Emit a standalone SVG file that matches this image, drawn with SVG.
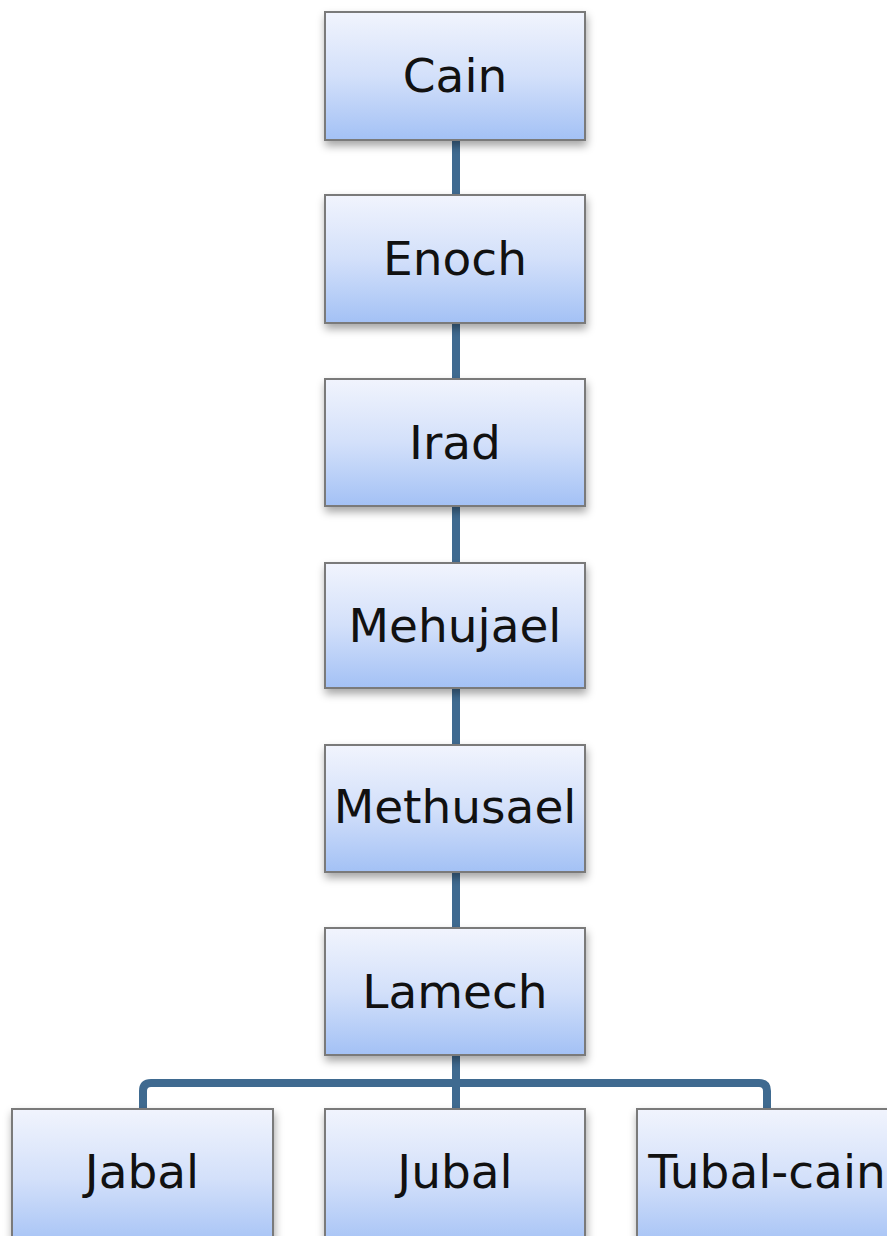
<svg xmlns="http://www.w3.org/2000/svg" width="887" height="1236" viewBox="0 0 887 1236">
<defs>
<linearGradient id="g" x1="0" y1="0" x2="0" y2="1">
<stop offset="0" stop-color="#f1f4fd"/>
<stop offset="0.5" stop-color="#d3e0fa"/>
<stop offset="1" stop-color="#a3c1f5"/>
</linearGradient>
<filter id="sh" x="-10%" y="-10%" width="125%" height="130%">
<feDropShadow dx="1" dy="5" stdDeviation="4" flood-color="#000" flood-opacity="0.35"/>
</filter>
</defs>
<style>
.box{fill:url(#g);stroke:#7a7a7a;stroke-width:2;filter:url(#sh)}
.lbl{font-family:"Comic Sans MS","DejaVu Sans",sans-serif;font-size:47px;fill:#111;text-anchor:middle}
.con{fill:none;stroke:#3f6a90;stroke-width:8;stroke-linejoin:round}
</style>
<rect width="887" height="1236" fill="#fff"/>
<g id="connectors">
<line class="con" x1="456" y1="140" x2="456" y2="195"/>
<line class="con" x1="456" y1="323" x2="456" y2="379"/>
<line class="con" x1="456" y1="506" x2="456" y2="563"/>
<line class="con" x1="456" y1="688" x2="456" y2="745"/>
<line class="con" x1="456" y1="872" x2="456" y2="928"/>
<line class="con" x1="456" y1="1055" x2="456" y2="1109"/>
<path class="con" d="M143 1109 V1091 Q143 1083 151 1083 H759 Q767 1083 767 1091 V1109"/>
</g>
<g id="cain"><rect class="box" x="325" y="12" width="260" height="128"/><text class="lbl" x="455" y="92">Cain</text></g>
<g id="enoch"><rect class="box" x="325" y="195" width="260" height="128"/><text class="lbl" x="455" y="275">Enoch</text></g>
<g id="irad"><rect class="box" x="325" y="379" width="260" height="127"/><text class="lbl" x="455" y="459">Irad</text></g>
<g id="mehujael"><rect class="box" x="325" y="563" width="260" height="125"/><text class="lbl" x="455" y="642">Mehujael</text></g>
<g id="methusael"><rect class="box" x="325" y="745" width="260" height="127"/><text class="lbl" x="455" y="823">Methusael</text></g>
<g id="lamech"><rect class="box" x="325" y="928" width="260" height="127"/><text class="lbl" x="455" y="1008">Lamech</text></g>
<g id="jabal"><rect class="box" x="12" y="1109" width="261" height="140"/><text class="lbl" x="142" y="1188">Jabal</text></g>
<g id="jubal"><rect class="box" x="325" y="1109" width="260" height="140"/><text class="lbl" x="455" y="1188">Jubal</text></g>
<g id="tubal-cain"><rect class="box" x="637" y="1109" width="260" height="140"/><text class="lbl" x="767" y="1188">Tubal-cain</text></g>
</svg>
